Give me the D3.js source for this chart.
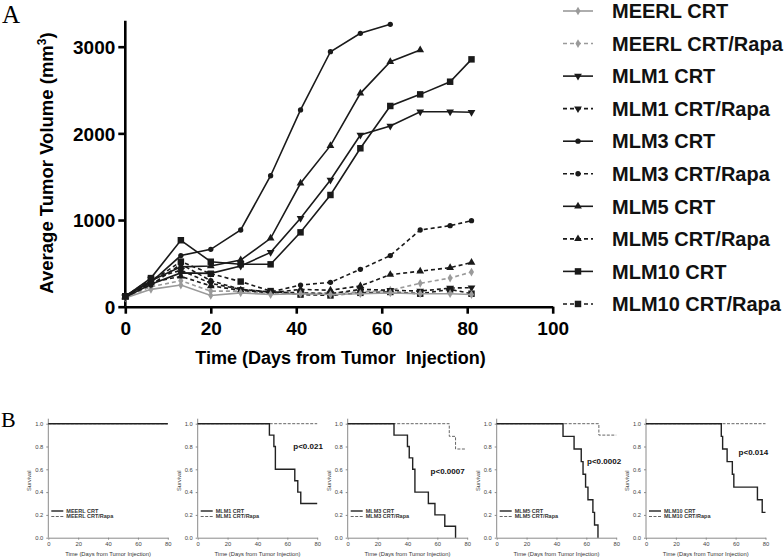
<!DOCTYPE html>
<html><head><meta charset="utf-8">
<script src="https://cdn.jsdelivr.net/npm/d3@7"></script>
<style>body{margin:0;background:#fff}svg{display:block}</style>
</head><body>
<svg id="c" width="784" height="558"></svg>
<script>
// ---------- Panel A data ----------
const days = [0, 6, 13, 20, 27, 34, 41, 48, 55, 62, 69, 76, 81];
const seriesNames = ["MEERL CRT","MEERL CRT/Rapa","MLM1 CRT","MLM1 CRT/Rapa","MLM3 CRT","MLM3 CRT/Rapa","MLM5 CRT","MLM5 CRT/Rapa","MLM10 CRT","MLM10 CRT/Rapa"];
const meerlCRT      = [100, 200, 250, 130, 160, 140, 150, 140, 150, 160, 150, 150, 140];
const meerlRapa     = [110, 230, 300, 180, 180, 150, 150, 160, 170, 190, 270, 330, 400];
const mlm1CRT       = [110, 260, 390, 385, 470, 627, 1020, 1462, 1981, 2085, 2250, 2250, 2243];
const mlm1Rapa      = [120, 320, 420, 270, 200, 170, 160, 150, 200, 190, 180, 215, 220];
const mlm3CRT       = [130, 280, 590, 662, 885, 1511, 2270, 2942, 3154, 3258];
const mlm3Rapa      = [120, 250, 490, 300, 200, 170, 250, 281, 431, 590, 885, 935, 992];
const mlm5CRT       = [120, 300, 460, 470, 538, 789, 1424, 1858, 2462, 2827, 2962];
const mlm5Rapa      = [110, 280, 350, 240, 190, 160, 200, 190, 240, 370, 410, 450, 510];
const mlm10CRT      = [120, 330, 767, 519, 490, 489, 858, 1289, 1828, 2316, 2450, 2596, 2854];
const mlm10Rapa     = [120, 290, 520, 380, 290, 180, 140, 130, 160, 170, 150, 200, 150];
const seriesValues = [meerlCRT, meerlRapa, mlm1CRT, mlm1Rapa, mlm3CRT, mlm3Rapa, mlm5CRT, mlm5Rapa, mlm10CRT, mlm10Rapa];
const seriesMarker = ["diamond","diamond","down","down","circle","circle","up","up","square","square"];
const xTicksA = [0, 20, 40, 60, 80, 100];
const yTicksA = [0, 1000, 2000, 3000];

// ---------- Panel B data ----------
const survTicksX = [0, 20, 40, 60, 80];
const survTicksY = [0, 0.2, 0.4, 0.6, 0.8, 1.0];
const panels = [
  {crt:"MEERL CRT", rapa:"MEERL CRT/Rapa", p:"",
   crtT:[0, 80], crtS:[1, 1], rapaT:[0, 80], rapaS:[1, 1], pX:0, pY:0},
  {crt:"MLM1 CRT", rapa:"MLM1 CRT/Rapa", p:"p<0.021",
   crtT:[0, 48, 51, 52, 65, 67, 69, 80], crtS:[1, 0.9, 0.8, 0.6, 0.5, 0.4, 0.3, 0.3],
   rapaT:[0, 80], rapaS:[1, 1], pX:64, pY:0.8},
  {crt:"MLM3 CRT", rapa:"MLM3 CRT/Rapa", p:"p<0.0007",
   crtT:[0, 31, 40, 41.2, 43.5, 45, 54, 58.4, 65, 72.2], crtS:[1, 0.9, 0.8, 0.7, 0.6, 0.4, 0.3, 0.2, 0.1, 0],
   rapaT:[0, 68, 72.2, 79], rapaS:[1, 0.889, 0.778, 0.778], pX:55.5, pY:0.58},
  {crt:"MLM5 CRT", rapa:"MLM5 CRT/Rapa", p:"p<0.0002",
   crtT:[0, 44.4, 51.8, 56.6, 57.8, 59.5, 61.1, 64.4, 65.5, 67.8], crtS:[1, 0.889, 0.778, 0.667, 0.556, 0.444, 0.333, 0.222, 0.111, 0],
   rapaT:[0, 68.4, 80], rapaS:[1, 0.9, 0.9], pX:60.5, pY:0.67},
  {crt:"MLM10 CRT", rapa:"MLM10 CRT/Rapa", p:"p<0.014",
   crtT:[0, 50.4, 51.3, 54.3, 57.8, 58.8, 74.6, 77.8, 80], crtS:[1, 0.889, 0.778, 0.667, 0.556, 0.444, 0.333, 0.222, 0.222],
   rapaT:[0, 80], rapaS:[1, 1], pX:62, pY:0.75}
];
const panelLefts = [48.3, 197.7, 347.7, 496.7, 646];

const svg = d3.select("#c");
const SANS = "'Liberation Sans', Arial, sans-serif";
const SERIF = "'Liberation Serif', 'Times New Roman', serif";

// ===== Panel A =====
const x = d3.scaleLinear().domain([0, 100]).range([125.3, 552.7]);
const y = d3.scaleLinear().domain([0, 3300]).range([306.7, 20.7]);

svg.append("text").attr("x", 2).attr("y", 23).attr("font-family", SERIF)
  .attr("font-size", 25).text("A");

const gA = svg.append("g");
const xAxis = gA.append("g").attr("transform", `translate(0,${y(0)})`)
  .call(d3.axisBottom(x).tickValues(xTicksA).tickSize(7).tickSizeOuter(0).tickPadding(4).tickFormat(d3.format("d")));
const yAxis = gA.append("g").attr("transform", `translate(${x(0)},0)`)
  .call(d3.axisLeft(y).tickValues(yTicksA).tickSize(7).tickSizeOuter(0).tickPadding(3).tickFormat(d3.format("d")));
[xAxis, yAxis].forEach(a => {
  a.select(".domain").attr("stroke", "#000").attr("stroke-width", 2.6);
  a.selectAll(".tick line").attr("stroke", "#000").attr("stroke-width", 2.6);
  a.selectAll(".tick text").attr("font-family", SANS).attr("font-weight", "bold")
    .attr("font-size", 19).attr("fill", "#000");
});
yAxis.select(".domain").attr("d", `M0,${y(0)}V${y(3300)}`);
xAxis.selectAll(".tick text").attr("dy", "0.9em");
yAxis.selectAll(".tick text").attr("dy", "0.36em");

gA.append("text").attr("x", 340.5).attr("y", 363.5).attr("text-anchor", "middle")
  .attr("font-family", SANS).attr("font-weight", "bold").attr("font-size", 18)
  .attr("xml:space", "preserve").text("Time (Days from Tumor  Injection)");
const yt = gA.append("text").attr("transform", "translate(53,163) rotate(-90)")
  .attr("text-anchor", "middle").attr("font-family", SANS).attr("font-weight", "bold").attr("font-size", 18.5);
yt.append("tspan").text("Average Tumor Volume (mm");
yt.append("tspan").attr("dy", -7).attr("font-size", 12).text("3");
yt.append("tspan").attr("dy", 7).text(")");

function markerPath(kind) {
  if (kind === "diamond") return d3.symbol(d3.symbolDiamond, 22)();
  if (kind === "circle") return d3.symbol(d3.symbolCircle, 22)();
  if (kind === "square") return d3.symbol(d3.symbolSquare, 42)();
  if (kind === "up") return d3.symbol(d3.symbolTriangle, 26)();
  if (kind === "down") return d3.symbol(d3.symbolTriangle, 26)();
  return "";
}
function styleOf(i) {
  const gray = i < 2;
  return {color: gray ? "#9a9a9a" : "#1a1a1a", dashed: i % 2 === 1};
}
const line = d3.line().x(d => x(d[0])).y(d => y(d[1]));
const order = [1, 3, 5, 7, 9, 0, 2, 4, 6, 8];
order.forEach(i => {
  const st = styleOf(i);
  const pts = seriesValues[i].map((v, k) => [days[k], v]);
  const g = gA.append("g");
  g.append("path").attr("d", line(pts)).attr("fill", "none").attr("stroke", st.color)
    .attr("stroke-width", 1.6).attr("stroke-dasharray", st.dashed ? "4,3" : null);
  g.selectAll("path.m").data(pts).enter().append("path").attr("class", "m")
    .attr("d", markerPath(seriesMarker[i]))
    .attr("transform", d => `translate(${x(d[0])},${y(d[1])})${seriesMarker[i] === "down" ? " rotate(180)" : ""}`)
    .attr("fill", st.color);
});

// Legend
const legY0 = 11, legStep = 32.55;
seriesNames.forEach((name, i) => {
  const st = styleOf(i);
  const cy = legY0 + i * legStep;
  const g = svg.append("g").attr("transform", `translate(0,${cy})`);
  g.append("line").attr("x1", 563).attr("x2", 593).attr("y1", 0).attr("y2", 0)
    .attr("stroke", st.color).attr("stroke-width", 1.6).attr("stroke-dasharray", st.dashed ? "4,3" : null);
  g.append("path").attr("d", markerPath(seriesMarker[i]))
    .attr("transform", `translate(578,0)${seriesMarker[i] === "down" ? " rotate(180)" : ""}`)
    .attr("fill", st.color);
  g.append("text").attr("x", 612).attr("y", 0).attr("dy", "0.36em")
    .attr("font-family", SANS).attr("font-weight", "bold").attr("font-size", 20)
    .attr("fill", "#111").text(name);
});

// ===== Panel B =====
svg.append("text").attr("x", 1).attr("y", 427).attr("font-family", SERIF)
  .attr("font-size", 22).text("B");

const sy = d3.scaleLinear().domain([0, 1]).range([537.7, 423.7]);
panels.forEach((p, idx) => {
  const left = panelLefts[idx];
  const sx = d3.scaleLinear().domain([0, 80]).range([left, left + 119.5]);
  const g = svg.append("g");
  const ax = g.append("g").attr("transform", `translate(0,${sy(0)})`)
    .call(d3.axisBottom(sx).tickValues(survTicksX).tickSize(2).tickSizeOuter(0).tickPadding(2).tickFormat(d3.format("d")));
  const ay = g.append("g").attr("transform", `translate(${left},0)`)
    .call(d3.axisLeft(sy).tickValues(survTicksY).tickSize(2).tickSizeOuter(0).tickPadding(3).tickFormat(d3.format(".1f")));
  [ax, ay].forEach(a => {
    a.select(".domain").attr("stroke", "#8a8a8a").attr("stroke-width", 1);
    a.selectAll(".tick line").attr("stroke", "#8a8a8a");
    a.selectAll(".tick text").attr("font-family", SANS).attr("font-size", 5.8).attr("fill", "#444");
  });
  ay.select(".domain").attr("d", `M0,${sy(0)}V${sy(1) - 5}`);
  g.append("text").attr("transform", `translate(${left - 17},${sy(0.5)}) rotate(-90)`)
    .attr("text-anchor", "middle").attr("font-family", SANS).attr("font-size", 5.8).attr("fill", "#444").text("Survival");
  g.append("text").attr("x", left + 59.75).attr("y", 556).attr("text-anchor", "middle")
    .attr("font-family", SANS).attr("font-size", 5.8).attr("fill", "#333").text("Time (Days from Tumor Injection)");

  const sl = d3.line().curve(d3.curveStepAfter).x(d => sx(d[0])).y(d => sy(d[1]));
  const rapaPts = p.rapaT.map((t, k) => [t, p.rapaS[k]]);
  const crtPts = p.crtT.map((t, k) => [t, p.crtS[k]]);
  g.append("path").attr("d", sl(rapaPts)).attr("fill", "none").attr("stroke", "#666")
    .attr("stroke-width", 1).attr("stroke-dasharray", "3,1.5");
  g.append("path").attr("d", sl(crtPts)).attr("fill", "none").attr("stroke", "#222")
    .attr("stroke-width", 1.4);

  const ly1 = 511, ly2 = 516.5;
  g.append("line").attr("x1", left + 3).attr("x2", left + 15).attr("y1", ly1).attr("y2", ly1)
    .attr("stroke", "#222").attr("stroke-width", 1.4);
  g.append("line").attr("x1", left + 3).attr("x2", left + 15).attr("y1", ly2).attr("y2", ly2)
    .attr("stroke", "#666").attr("stroke-width", 1).attr("stroke-dasharray", "3,1.5");
  g.append("text").attr("x", left + 18).attr("y", ly1).attr("dy", "0.36em").attr("font-family", SANS)
    .attr("font-weight", "bold").attr("font-size", 5.5).attr("fill", "#333").text(p.crt);
  g.append("text").attr("x", left + 18).attr("y", ly2).attr("dy", "0.36em").attr("font-family", SANS)
    .attr("font-weight", "bold").attr("font-size", 5.5).attr("fill", "#333").text(p.rapa);

  if (p.p) {
    g.append("text").attr("x", sx(p.pX)).attr("y", sy(p.pY)).attr("dy", "0.36em")
      .attr("font-family", SANS).attr("font-weight", "bold").attr("font-size", 8).attr("fill", "#111").text(p.p);
  }
});
</script>
</body></html>
